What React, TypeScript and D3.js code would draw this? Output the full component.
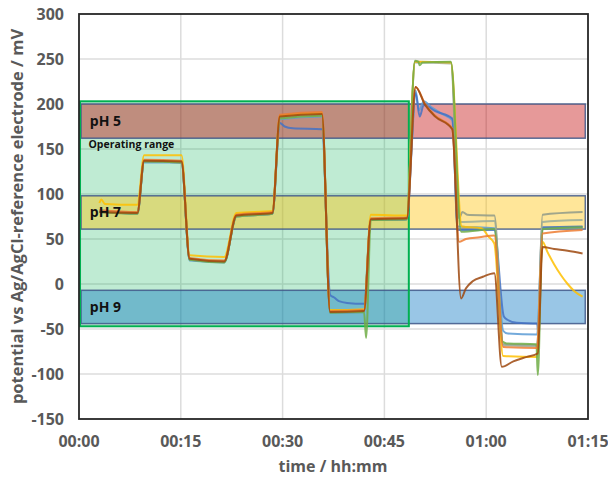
import React, { useEffect, useRef } from "react";
import * as d3 from "d3";

// time in minutes, potential in mV
const blue: [number, number][] = [[3.0, 82], [8.6, 78], [9.6, 135], [15.1, 135], [16.3, 26], [21.4, 24], [23.2, 75], [28.5, 78], [29.6, 183], [35.8, 186], [37.0, -32], [42.0, -31], [43.0, 71], [48.3, 72], [49.0, 150], [49.6, 215], [50.1, 193], [50.8, 203], [52, 196], [53.5, 189], [55.0, 182], [55.8, 64], [61.2, 62], [62.5, -52], [63.2, -55], [67.5, -56], [68.3, 62], [74.2, 63]];
const darkBlue: [number, number][] = [[3.0, 81], [8.6, 79], [9.6, 136], [15.1, 135], [16.3, 27], [21.4, 25], [23.2, 76], [28.5, 78], [29.6, 179], [30.3, 175], [31.5, 173], [35.8, 172], [37.0, -12], [37.6, -15], [38.3, -19], [39.5, -21], [42.0, -22], [43.0, 71], [48.3, 72], [49.6, 212], [50.2, 186], [50.8, 199], [52.5, 192], [55.0, 184], [55.8, 60], [61.2, 60], [62.6, -36], [63.2, -40], [64.5, -43], [67.5, -44], [67.7, -55], [68.3, 63], [74.2, 64]];
const gray: [number, number][] = [[3.0, 81], [8.6, 79], [9.6, 137], [15.1, 136], [16.3, 28], [21.4, 25], [23.2, 76], [28.5, 79], [29.6, 185], [35.8, 188], [37.0, -31], [42.0, -30], [43.0, 72], [48.3, 73], [49.5, 247], [54.8, 246], [56.0, 73], [56.5, 80], [57.2, 77], [61.2, 76], [62.5, -67], [67.5, -68], [68.3, 77], [74.2, 80]];
const gray2: [number, number][] = [[3.0, 80], [8.6, 78], [9.6, 136], [15.1, 135], [16.3, 27], [21.4, 25], [23.2, 75], [28.5, 78], [29.6, 184], [35.8, 187], [37.0, -31], [42.0, -30], [43.0, 71], [48.3, 72], [49.5, 246], [54.8, 245], [56.2, 69], [61.2, 70], [62.5, -68], [67.5, -69], [68.3, 69], [74.2, 71]];
const yellow: [number, number][] = [[3.0, 90], [3.3, 94], [3.8, 89], [8.6, 88], [9.6, 143], [15.1, 143], [16.3, 32], [21.4, 30], [23.2, 79], [28.5, 81], [29.6, 187], [35.8, 190], [37.0, -29], [42.0, -28], [43.0, 77], [48.3, 76], [49.5, 247], [54.8, 246], [56.4, 64], [59.3, 62], [60.3, 53], [61.2, 45], [62.5, -80], [67.5, -81], [68.3, 47], [69, 36], [70, 22], [71, 10], [72, 0], [73, -8], [74.2, -14]];
const green: [number, number][] = [[3.0, 80], [8.6, 78], [9.6, 136], [15.1, 135], [16.3, 27], [21.4, 24], [23.2, 75], [28.5, 78], [29.6, 184], [35.8, 187], [37.0, -32], [42.0, -31], [42.3, -60], [43.0, 71], [48.3, 72], [49.5, 248], [50.0, 247], [50.2, 243], [50.6, 246], [54.8, 247], [56.3, 58], [61.2, 61], [62.4, -64], [63, -66], [67.4, -67], [67.6, -101], [68.3, 61], [74.2, 63]];
const orange: [number, number][] = [[3.0, 82], [8.6, 80], [9.6, 138], [15.1, 137], [16.3, 29], [21.4, 26], [23.2, 77], [28.5, 80], [29.6, 188], [35.8, 191], [37.0, -30], [42.0, -29], [43.0, 73], [48.3, 74], [49.6, 219], [51, 200], [52.5, 187], [55.0, 173], [56.0, 47], [57, 50], [59, 52], [61.2, 54], [62.5, -70], [67.5, -71], [68.3, 56], [74.2, 60]];
const brown: [number, number][] = [[3.0, 80], [8.6, 79], [9.6, 137], [15.1, 136], [16.3, 28], [21.4, 25], [23.2, 76], [28.5, 79], [29.6, 186], [35.8, 189], [37.0, -31], [42.0, -30], [43.0, 72], [48.3, 73], [49.6, 219], [51, 199], [52.5, 186], [55.0, 172], [56.3, -16], [57, -5], [58, 3], [59.5, 8], [61.2, 12], [62.3, -92], [64, -86], [66, -81], [67.6, -77], [68.3, 41], [70, 39], [72, 37], [74.2, 34]];

const series = [blue, darkBlue, gray, gray2, yellow, green, orange, brown];
const seriesColors = ["#5b9bd5", "#4472c4", "#909a88", "#9aab9a", "#ffc000", "#70ad47", "#ed7d31", "#9e480e"];

// pH windows [low, high] in mV
const bandLabels = ["pH 5", "pH 7", "pH 9"];
const bandLow = [162, 61, -44];
const bandHigh = [200, 98, -7];
const bandColors = ["rgba(192,0,0,0.4)", "rgba(255,192,0,0.4)", "rgba(0,112,192,0.4)"];
const bandStart = 0.3;
const bandEnd = 74.6;

// operating range: time [min] and potential [mV]
const opStart = 0.15;
const opEnd = 48.6;
const opLow = -47;
const opHigh = 203;

const xTicks = [0, 15, 30, 45, 60, 75];
const yTicks = [-150, -100, -50, 0, 50, 100, 150, 200, 250, 300];

const fmt = (m: number) => {
    const h = Math.floor(m / 60), mm = m % 60;
    return String(h).padStart(2, "0") + ":" + String(mm).padStart(2, "0");
};

export default function App() {
    const ref = useRef<SVGSVGElement>(null);

    useEffect(() => {
        const svg = d3.select(ref.current);
        svg.selectAll("*").remove();

        const x = d3.scaleLinear().domain([0, 75]).range([79, 588]);
        const y = d3.scaleLinear().domain([-150, 300]).range([419, 14]);
        const font = "'Open Sans', sans-serif";

        svg.append("rect").attr("width", 608).attr("height", 478).attr("fill", "#fff");

        // grid
        svg.selectAll("hgrid")
            .data(yTicks.slice(1, -1))
            .enter()
            .append("line")
            .attr("x1", x(0)).attr("x2", x(75))
            .attr("y1", d => y(d)).attr("y2", d => y(d))
            .attr("stroke", "#dcdcdc").attr("stroke-width", 1.5);
        svg.selectAll("vgrid")
            .data(xTicks.slice(1, -1))
            .enter()
            .append("line")
            .attr("x1", d => x(d)).attr("x2", d => x(d))
            .attr("y1", y(300)).attr("y2", y(-150))
            .attr("stroke", "#dcdcdc").attr("stroke-width", 1.5);

        // operating range fill
        svg.append("rect")
            .attr("x", x(opStart)).attr("y", y(opHigh))
            .attr("width", x(opEnd) - x(opStart)).attr("height", y(opLow) - y(opHigh))
            .attr("fill", "rgba(0,176,80,0.25)");

        // pH bands
        svg.selectAll("band")
            .data(bandLabels)
            .enter()
            .append("rect")
            .attr("x", x(bandStart)).attr("width", x(bandEnd) - x(bandStart))
            .attr("y", (d, i) => y(bandHigh[i]))
            .attr("height", (d, i) => y(bandLow[i]) - y(bandHigh[i]))
            .attr("fill", (d, i) => bandColors[i])
            .attr("stroke", "#3e5788").attr("stroke-opacity", 0.85).attr("stroke-width", 1.5);

        // operating range border
        svg.append("rect")
            .attr("x", x(opStart)).attr("y", y(opHigh))
            .attr("width", x(opEnd) - x(opStart)).attr("height", y(opLow) - y(opHigh))
            .attr("fill", "none").attr("stroke", "#00b050").attr("stroke-width", 2);

        // series
        const line = d3.line<[number, number]>()
            .x(d => x(d[0]))
            .y(d => y(d[1]))
            .curve(d3.curveMonotoneX);
        series.forEach((s, i) => {
            svg.append("path")
                .attr("d", line(s))
                .attr("fill", "none")
                .attr("stroke", seriesColors[i])
                .attr("stroke-width", 2)
                .attr("stroke-opacity", 0.85)
                .attr("stroke-linejoin", "round");
        });

        // labels
        svg.selectAll("bandlabel")
            .data(bandLabels)
            .enter()
            .append("text")
            .attr("x", x(1.6))
            .attr("y", (d, i) => y((bandLow[i] + bandHigh[i]) / 2))
            .attr("dy", "0.35em")
            .attr("font-family", font).attr("font-weight", 700).attr("font-size", 14)
            .attr("fill", "#111")
            .text(d => d);
        svg.append("text")
            .attr("x", x(1.4)).attr("y", y(155)).attr("dy", "0.35em")
            .attr("font-family", font).attr("font-weight", 700).attr("font-size", 10.5)
            .attr("fill", "#111")
            .text("Operating range");

        // plot border
        svg.append("rect")
            .attr("x", x(0)).attr("y", y(300))
            .attr("width", x(75) - x(0)).attr("height", y(-150) - y(300))
            .attr("fill", "none").attr("stroke", "#262626").attr("stroke-width", 1.8);

        // tick labels
        svg.selectAll("ylab")
            .data(yTicks)
            .enter()
            .append("text")
            .attr("x", 64).attr("y", d => y(d)).attr("dy", "0.35em")
            .attr("text-anchor", "end")
            .attr("font-family", font).attr("font-weight", 700).attr("font-size", 16)
            .attr("fill", "#595959")
            .text(d => d);
        svg.selectAll("xlab")
            .data(xTicks)
            .enter()
            .append("text")
            .attr("x", d => x(d)).attr("y", 441).attr("dy", "0.35em")
            .attr("text-anchor", "middle")
            .attr("font-family", font).attr("font-weight", 700).attr("font-size", 16)
            .attr("fill", "#595959")
            .text(d => fmt(d));

        // axis titles
        svg.append("text")
            .attr("x", 333).attr("y", 466).attr("dy", "0.35em")
            .attr("text-anchor", "middle")
            .attr("font-family", font).attr("font-weight", 700).attr("font-size", 16)
            .attr("fill", "#595959")
            .text("time / hh:mm");
        svg.append("text")
            .attr("transform", "translate(17," + y(75) + ") rotate(-90)")
            .attr("dy", "0.35em")
            .attr("text-anchor", "middle")
            .attr("font-family", font).attr("font-weight", 700).attr("font-size", 16.5)
            .attr("fill", "#595959")
            .text("potential vs Ag/AgCl-reference electrode / mV");
    }, []);

    return (
        <svg ref={ref} width={608} height={478}
            style={{ position: "absolute", left: 0, top: 0 }} />
    );
}
